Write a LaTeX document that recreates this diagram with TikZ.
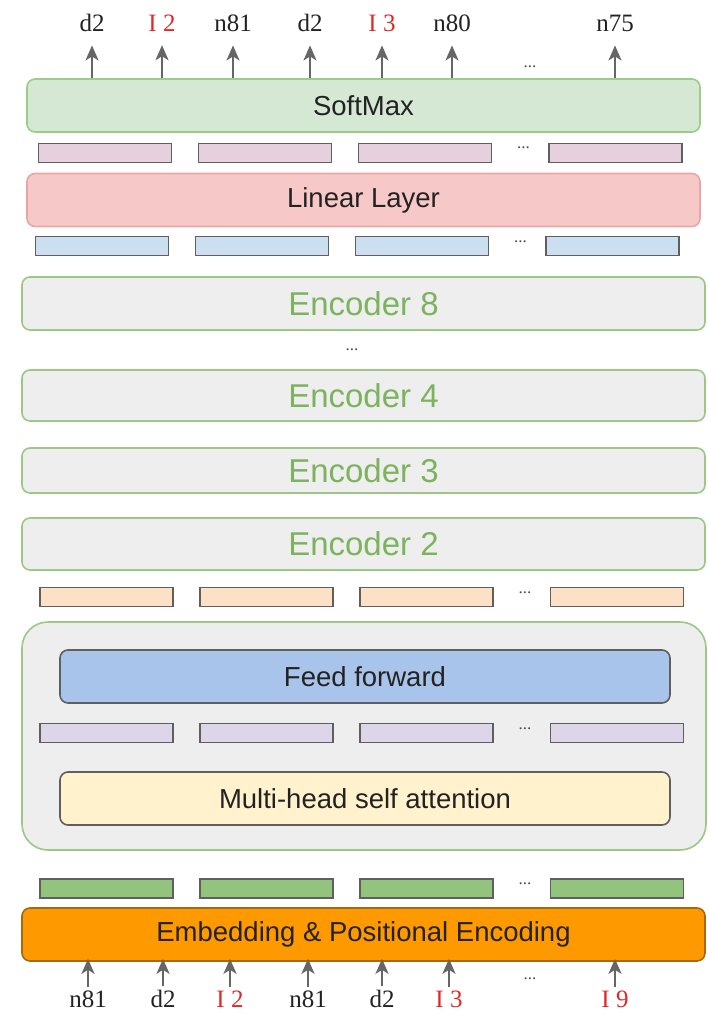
\documentclass[tikz,border=0pt]{standalone}
\usepackage{fontspec}
\setmainfont{Liberation Serif}
\setsansfont{Liberation Sans}
\usetikzlibrary{arrows.meta}
\definecolor{smfill}{HTML}{D5E8D4}
\definecolor{smdraw}{HTML}{9DCB89}
\definecolor{linfill}{HTML}{F6C9C8}
\definecolor{lindraw}{HTML}{E8A6A4}
\definecolor{encfill}{HTML}{EEEEEE}
\definecolor{encdraw}{HTML}{9BC985}
\definecolor{enctext}{HTML}{7DB35E}
\definecolor{vecdraw}{HTML}{5F5F5F}
\definecolor{pinkvec}{HTML}{E6D0DE}
\definecolor{bluevec}{HTML}{CCDFF1}
\definecolor{peachvec}{HTML}{FCE1C6}
\definecolor{purplevec}{HTML}{DDD5E8}
\definecolor{greenvec}{HTML}{93C47D}
\definecolor{fffill}{HTML}{A9C4EB}
\definecolor{mhfill}{HTML}{FFF2CC}
\definecolor{embfill}{HTML}{FF9900}
\definecolor{embdraw}{HTML}{A56A10}
\definecolor{labred}{HTML}{E0282B}
\definecolor{labblack}{HTML}{222222}
\definecolor{arrgray}{HTML}{666666}
\tikzset{   layer/.style = {rectangle, rounded corners=8pt, line width=1.6pt, minimum height=53pt, minimum width=673pt, font=\sffamily\fontsize{27.5}{30}\selectfont, text=labblack},
            enc/.style = {layer, draw=encdraw, fill=encfill, minimum width=683pt, text=enctext, font=\sffamily\fontsize{33}{36}\selectfont},
            vec/.style = {rectangle, draw=vecdraw, line width=1.7pt, minimum width=133pt, minimum height=19pt, inner sep=0pt},
            lab/.style = {anchor=base, inner sep=0pt, font=\fontsize{25}{28}\selectfont},
            dots/.style = {anchor=base, inner sep=0pt, font=\fontsize{17}{20}\selectfont, text=black!70},
            arr/.style = {draw=arrgray, line width=2.2pt, -{Stealth[length=15pt,width=13pt,inset=4pt]}}}

\begin{document}
\begin{tikzpicture}[x=1pt,y=-1pt]
\useasboundingbox (0,0) rectangle (708,1014);
% output side
\node[layer, draw=smdraw, fill=smfill] (sm) at (363.5,105.5) {SoftMax};
\node[layer, draw=lindraw, fill=linfill] (lin) at (363.5,200) {Linear Layer};
% encoder stack
\node[enc] (enc8) at (363.5,303.5) {Encoder 8};
\node[dots] (encdots) at (352,350) {...};
\node[enc, minimum height=51pt] (enc4) at (363.5,395.5) {Encoder 4};
\node[enc, minimum height=45pt] (enc3) at (363.5,470.5) {Encoder 3};
\node[enc, minimum height=52pt] (enc2) at (363.5,544) {Encoder 2};
% first encoder, opened up
\node[layer, draw=encdraw, fill=encfill, rounded corners=26pt, minimum width=684pt, minimum height=228pt] (enc1) at (364,736) {};
\node[layer, draw=vecdraw, fill=fffill, minimum width=610pt] (ff) at (365,676.5) {Feed forward};
\node[layer, draw=vecdraw, fill=mhfill, minimum width=610pt] (mh) at (365,798.5) {Multi-head self attention};
% input side
\node[layer, draw=embdraw, fill=embfill, minimum width=683pt] (emb) at (363.5,934.5) {Embedding \& Positional Encoding};

% token vectors between the layers
\foreach \row/\col/\y/\dx in {p/pinkvec/153/-1.5, b/bluevec/246/-4.5, o/peachvec/597/0, u/purplevec/733/0, g/greenvec/888.5/0} {
  \foreach \i/\x in {1/106.5, 2/266.5, 3/426.5, 4/617}
    \node[vec, fill=\col] (\row\i) at ({\x+(\dx)},\y) {};
  \node[dots] (\row dots) at ({525+(\dx)},{\y-4}) {...};
}

% predicted tokens
\foreach \n/\x/\t/\c in {1/92/d2/labblack, 2/162/I 2/labred, 3/233/n81/labblack, 4/310/d2/labblack, 5/382/I 3/labred, 6/452/n80/labblack, 7/615/n75/labblack} {
  \node[lab, text=\c] (out\n) at (\x,32) {\t};
  \draw[arr, shorten >=13pt] (sm.north -| out\n) -- (out\n.south);
}
\node[dots] (outdots) at (530,68) {...};

% input tokens
\foreach \n/\x/\t/\c in {1/88/n81/labblack, 2/163/d2/labblack, 3/230/I 2/labred, 4/308/n81/labblack, 5/382/d2/labblack, 6/449/I 3/labred, 7/615/I 9/labred} {
  \node[lab, text=\c] (in\n) at (\x,1007) {\t};
  \draw[arr, shorten <=3pt, shorten >=-3pt] (in\n.north) -- (emb.south -| in\n);
}
\node[dots] (indots) at (530,979) {...};
\end{tikzpicture}
\end{document}
